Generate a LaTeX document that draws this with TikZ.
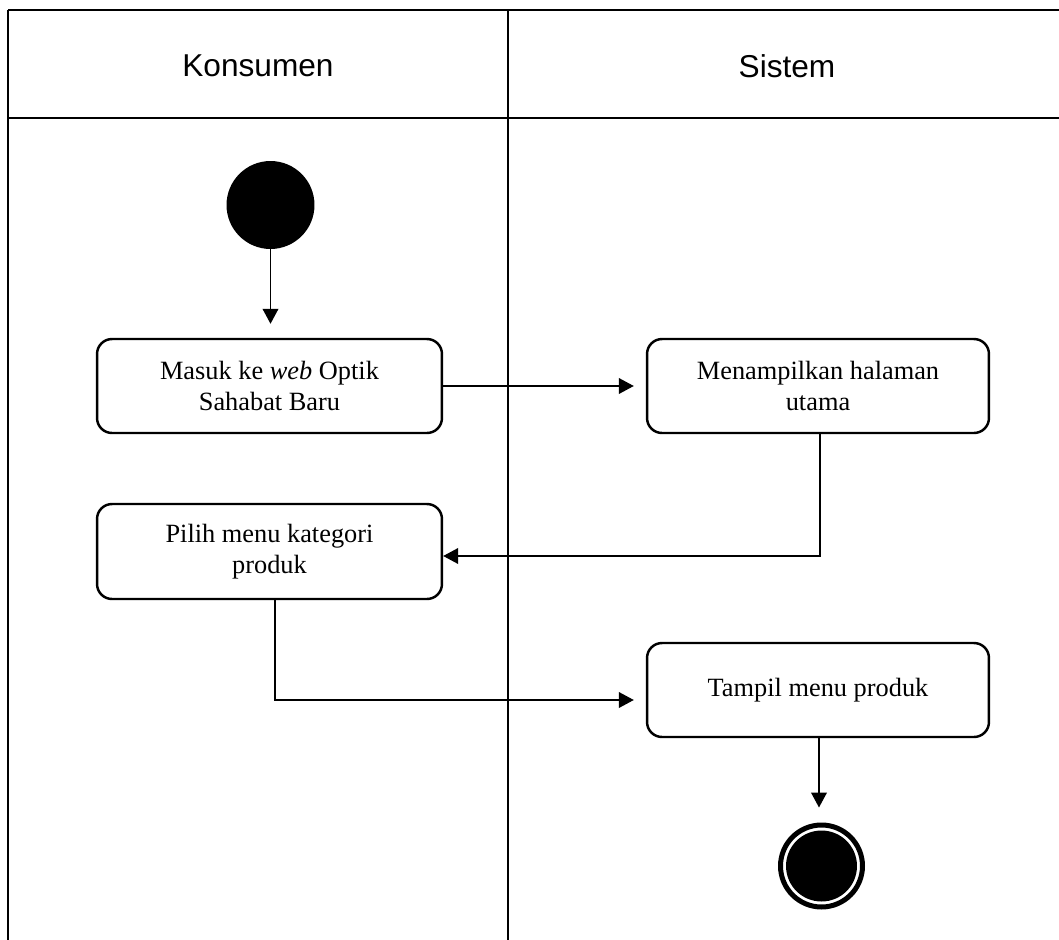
\documentclass[tikz,border=0pt]{standalone}
\usepackage{fontspec}
\setmainfont{Liberation Serif}
\newfontfamily\headfont{Liberation Sans}
\usetikzlibrary{arrows.meta}
\begin{document}
\begin{tikzpicture}[x=0.02cm,y=-0.02cm,
  lane/.style={line width=1.3pt},
  thinlane/.style={line width=0.7pt},
  head/.style={font=\headfont\fontsize{18}{21}\selectfont},
  act/.style={draw,line width=1.4pt,rounded corners=0.3cm,align=center,inner sep=0pt,
    font=\fontsize{15}{18}\selectfont},
  arr/.style={line width=0.9pt,-{Triangle[length=8.5pt,width=8.9pt]}},
  startnode/.style={circle,fill=black,inner sep=0pt,minimum size=1.76cm},
  endring/.style={circle,draw,line width=0.1cm,inner sep=0pt,minimum size=1.64cm},
  enddot/.style={circle,fill=black,inner sep=0pt,minimum size=1.42cm}]
\useasboundingbox (0,0) rectangle (1059,940);
% swimlanes
\draw[thinlane] (8,10) -- (1059,10);
\draw[lane] (8,118) -- (1059,118);
\draw[lane] (8,10) -- (8,940);
\draw[lane] (508,10) -- (508,940);
\node[head] (hk) at (258,66) {Konsumen};
\node[head] (hs) at (787,66) {Sistem};
% nodes
\node[startnode] (start) at (270.5,205) {};
\node[act,minimum width=6.9cm,minimum height=1.88cm] (b1) at (269.5,386) {Masuk ke \textit{web} Optik\\Sahabat Baru};
\node[act,minimum width=6.84cm,minimum height=1.88cm] (b2) at (818,386) {Menampilkan halaman\\utama};
\node[act,minimum width=6.9cm,minimum height=1.9cm] (b3) at (269.5,551.5) {\raisebox{-3pt}{\begin{tabular}{@{}c@{}}Pilih menu kategori\\[-0.5pt]produk\end{tabular}}};
\node[act,minimum width=6.84cm,minimum height=1.88cm] (b4) at (818,690) {Tampil menu produk};
\node[endring] (end) at (821.5,866) {};
\node[enddot] (endin) at (end.center) {};
% connectors
\draw[arr,shorten >=0.28cm] (start.south) -- (start.south |- b1.north);
\draw[arr,shorten >=0.24cm] (b1.east) -- (b2.west);
\draw[arr] ([xshift=0.04cm]b2.south) |- ([yshift=-0.09cm]b3.east);
\coordinate (c34) at ([yshift=-0.2cm]b4.west);
\draw[arr,shorten >=0.24cm] ([xshift=0.11cm]b3.south) |- (c34);
\draw[arr,shorten >=0.3cm] ([xshift=0.02cm]b4.south) -- ([xshift=0.02cm]b4.south |- end.north);
\end{tikzpicture}
\end{document}
